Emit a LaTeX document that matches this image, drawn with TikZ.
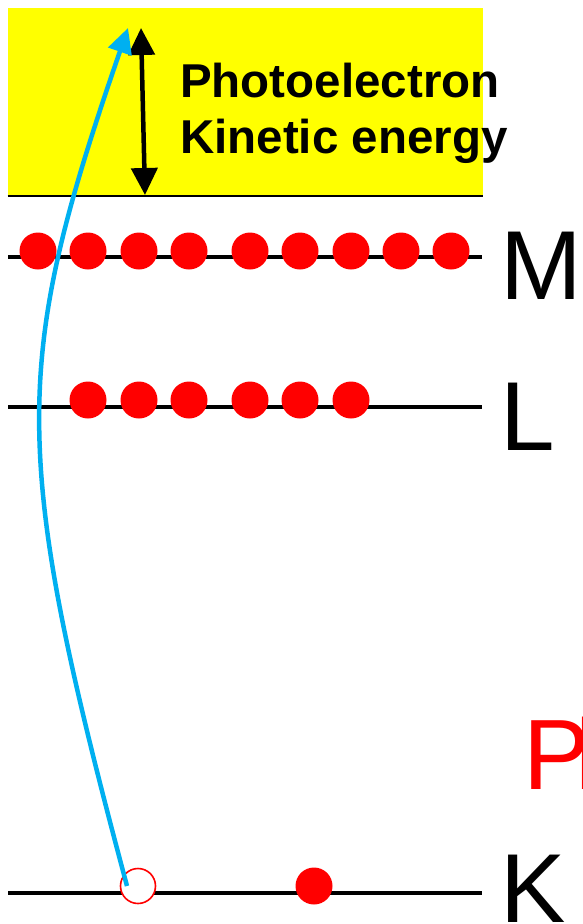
\documentclass[tikz,border=0pt]{standalone}
\usepackage{fontspec}
\setmainfont{Liberation Sans}
\usetikzlibrary{arrows.meta}
\definecolor{bandyellow}{RGB}{255,255,0}
\definecolor{photoblue}{RGB}{0,176,240}
\tikzset{
  electron/.style={circle,fill=red,minimum size=37pt,inner sep=0pt},
  vacancy/.style={circle,draw=red,fill=white,line width=1.6pt,minimum size=35pt,inner sep=0pt},
  level/.style={line width=4.5pt},
  shell/.style={font=\fontsize{98}{98}\selectfont,anchor=base west,inner sep=0pt},
}

\begin{document}
\begin{tikzpicture}[x=1pt,y=-1pt]
  \useasboundingbox (0,0) rectangle (583,924);

  \fill[bandyellow] (7.5,7.5) rectangle (482.5,196);
  \draw[line width=2pt] (7.5,196) -- (482.5,196);

  \coordinate (Mleft) at (8,257);
  \coordinate (Mright) at (482,257);
  \coordinate (Lleft) at (8,407);
  \coordinate (Lright) at (482,407);
  \coordinate (Kleft) at (8,893);
  \coordinate (Kright) at (482,893);
  \draw[level] (Mleft) -- (Mright);
  \draw[level] (Lleft) -- (Lright);
  \draw[level] (Kleft) -- (Kright);

  \foreach \x [count=\i] in {38,88,139,189,250,300,351,401,451}
    \node[electron] (m\i) at (\x,251) {};
  \foreach \x [count=\i] in {88,139,189,250,300,351}
    \node[electron] (l\i) at (\x,400) {};
  \node[vacancy] (hole) at (138,886) {};
  \node[electron] (k2) at (314,886) {};

  \node[shell] (labM) at (500,299) {M};
  \node[shell] (labL) at (500,450) {L};
  \node[shell] (labK) at (500,922) {K};

  % kinetic energy span
  \coordinate (KEtop) at (141,28);
  \coordinate (KEbot) at (145,195);
  \draw[line width=4.5pt,{Triangle[length=27pt,width=26pt]}-{Triangle[length=27pt,width=26pt]}]
    (KEtop) -- (KEbot);
  \node[anchor=north west,inner sep=0pt,align=left,
        font=\bfseries\fontsize{47.5}{56}\selectfont] (ke) at (180,63)
    {Photoelectron\\Kinetic energy};

  \node[anchor=base west,inner sep=0pt,text=red,
        font=\fontsize{100}{100}\selectfont] (ph) at (523,789) {P\kern-14pt h};

  % ejected electron
  \coordinate (out) at (128,28);
  \draw[photoblue,line width=4.5pt,-{Triangle[length=25pt,width=24pt]}]
    ([xshift=-11pt]hole.center) .. controls (10,450) and (12,364) .. (out);
\end{tikzpicture}
\end{document}
